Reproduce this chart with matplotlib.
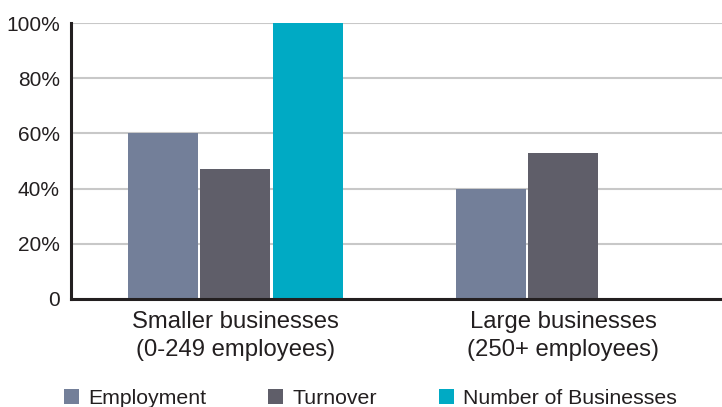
import numpy as np
import matplotlib.pyplot as plt
from matplotlib.ticker import FuncFormatter

plt.rcParams['font.family'] = ['Liberation Sans', 'DejaVu Sans']

# dados
categorias = ['Smaller businesses\n(0-249 employees)', 'Large businesses\n(250+ employees)']
series = ['Employment', 'Turnover', 'Number of Businesses']
employment = [60, 40]
turnover = [47, 53]
num_businesses = [100, 0]
yticks = [0, 20, 40, 60, 80, 100]

cores = ['#737f99', '#5f5e69', '#00aac4']
texto = '#231f20'

fig = plt.figure(figsize=(7.22, 4.07), dpi=100)
ax = fig.add_axes([0.0983, 0.2654, 0.9017, 0.678])

x = np.arange(len(categorias))
w = 0.2134
passo = 0.221
valores = [employment, turnover, num_businesses]
barras = []
for i, (nome, v, c) in enumerate(zip(series, valores, cores)):
    b = ax.bar(x + (i - 1) * passo, v, width=w, color=c, label=nome, zorder=2, clip_on=False)
    barras.append(b)

ax.set_xlim(-0.5, 1.483)
ax.set_ylim(0, 100)
ax.set_yticks(yticks)
ax.yaxis.set_major_formatter(FuncFormatter(lambda v, p: '0' if v == 0 else f'{v:.0f}%'))
ax.set_xticks(x)
ax.set_xticklabels(categorias, fontsize=17.2, color=texto, linespacing=1.32)
ax.tick_params(axis='y', length=0, pad=8, labelsize=15, labelcolor=texto)
ax.tick_params(axis='x', length=0, pad=9)

ax.grid(axis='y', color='#c8c8c8', linewidth=1.5, zorder=0)
ax.set_axisbelow(True)
for s in ['top', 'right']:
    ax.spines[s].set_visible(False)
for s in ['left', 'bottom']:
    ax.spines[s].set_color(texto)
    ax.spines[s].set_linewidth(2.2)
    ax.spines[s].set_zorder(3)

fig.legend(handles=barras, labels=series, loc='lower left', bbox_to_anchor=(0.074, -0.028),
           ncol=3, frameon=False, fontsize=15.3, handlelength=0.7, handleheight=0.7,
           handletextpad=0.45, columnspacing=2.9, borderpad=0, labelcolor=texto)

fig.savefig('out.png', dpi=100)
